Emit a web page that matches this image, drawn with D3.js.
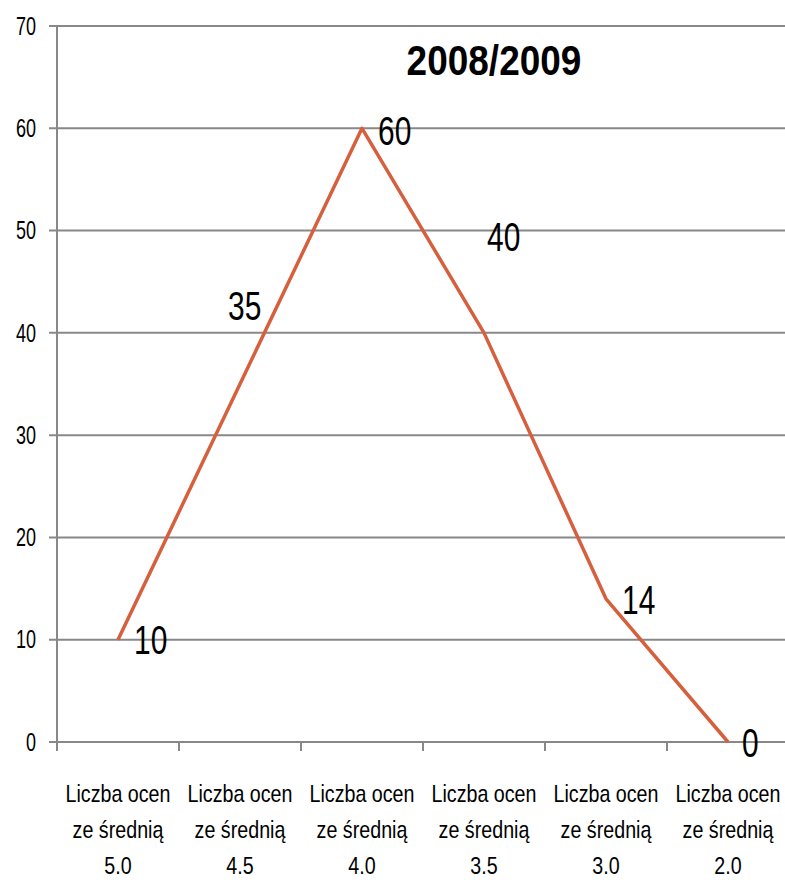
<!DOCTYPE html>
<html>
<head>
<meta charset="utf-8">
<script src="https://cdn.jsdelivr.net/npm/d3@7"></script>
<style>
  body { margin: 0; background: #fff; }
  text { font-family: "Liberation Sans Narrow", "Liberation Sans", Arial, sans-serif; fill: #000; }
</style>
</head>
<body>
<div id="chart"></div>
<script>
// data
var categories = ["5.0", "4.5", "4.0", "3.5", "3.0", "2.0"];
var categoryPrefix = ["Liczba ocen", "ze średnią"];
var values = [10, 35, 60, 40, 14, 0];
var yTicks = [0, 10, 20, 30, 40, 50, 60, 70];
var title = "2008/2009";

// label nudges (px) -- two labels were dragged away from their points
var labelShift = [[16, 0], [-12, -79], [16, 2], [3, -97], [16, 0], [14, 0]];

var width = 785, height = 882;
var left = 57;

var svg = d3.select("#chart")
	.append("svg")
	.attr("width", width)
	.attr("height", height);

var x = d3.scaleBand()
	.domain(categories)
	.range([left, left + 6 * 122]);

var y = d3.scaleLinear()
	.domain([0, 70])
	.range([742, 26]);

// the original font is a condensed one, so squeeze text horizontally
function squeeze(px, py, s) {
	return "translate(" + px + "," + py + ") scale(" + s + ",1)";
}

// gridlines
svg.selectAll("line.grid")
	.data(yTicks)
	.enter()
		.append("line")
		.attr("class", "grid")
		.attr("x1", 49)
		.attr("x2", width)
		.attr("y1", function(d) { return y(d); })
		.attr("y2", function(d) { return y(d); })
		.attr("stroke", "#888")
		.attr("stroke-width", 2);

// y axis line
svg.append("line")
	.attr("x1", left).attr("x2", left)
	.attr("y1", y(70)).attr("y2", y(0) + 9)
	.attr("stroke", "#888")
	.attr("stroke-width", 2);

// category tick marks
svg.selectAll("line.xtick")
	.data(categories.slice(1))
	.enter()
		.append("line")
		.attr("class", "xtick")
		.attr("x1", function(d) { return x(d); })
		.attr("x2", function(d) { return x(d); })
		.attr("y1", y(0))
		.attr("y2", y(0) + 9)
		.attr("stroke", "#888")
		.attr("stroke-width", 2);

// y tick labels
svg.selectAll("text.ylab")
	.data(yTicks)
	.enter()
		.append("text")
		.attr("class", "ylab")
		.attr("transform", function(d) { return squeeze(36, y(d), 0.72); })
		.attr("dy", "0.35em")
		.attr("text-anchor", "end")
		.attr("font-size", 25)
		.text(function(d) { return d; });

// x category labels, three lines each
svg.selectAll("text.xlab")
	.data(categories)
	.enter()
		.append("text")
		.attr("class", "xlab")
		.attr("transform", function(d) { return squeeze(x(d) + x.bandwidth() / 2, 802, 0.82); })
		.attr("text-anchor", "middle")
		.attr("font-size", 24)
		.each(function(d) {
			var t = d3.select(this);
			categoryPrefix.concat([d]).forEach(function(s, i) {
				t.append("tspan")
					.attr("x", 0)
					.attr("y", i * 36)
					.text(s);
			});
		});

// line
var line = d3.line()
	.x(function(d, i) { return x(categories[i]) + x.bandwidth() / 2; })
	.y(function(d) { return y(d); });

svg.append("path")
	.datum(values)
	.attr("d", line)
	.attr("fill", "none")
	.attr("stroke", "#d6603d")
	.attr("stroke-width", 3.5)
	.attr("stroke-linejoin", "round");

// data labels
svg.selectAll("text.val")
	.data(values)
	.enter()
		.append("text")
		.attr("class", "val")
		.attr("transform", function(d, i) {
			return squeeze(x(categories[i]) + x.bandwidth() / 2 + labelShift[i][0], y(d) + labelShift[i][1], 0.73);
		})
		.attr("dy", "0.36em")
		.attr("font-size", 41)
		.text(function(d) { return d; });

// title
svg.append("text")
	.attr("transform", squeeze(494, 75, 0.86))
	.attr("text-anchor", "middle")
	.attr("font-size", 43)
	.attr("font-weight", "bold")
	.text(title);
</script>
</body>
</html>
